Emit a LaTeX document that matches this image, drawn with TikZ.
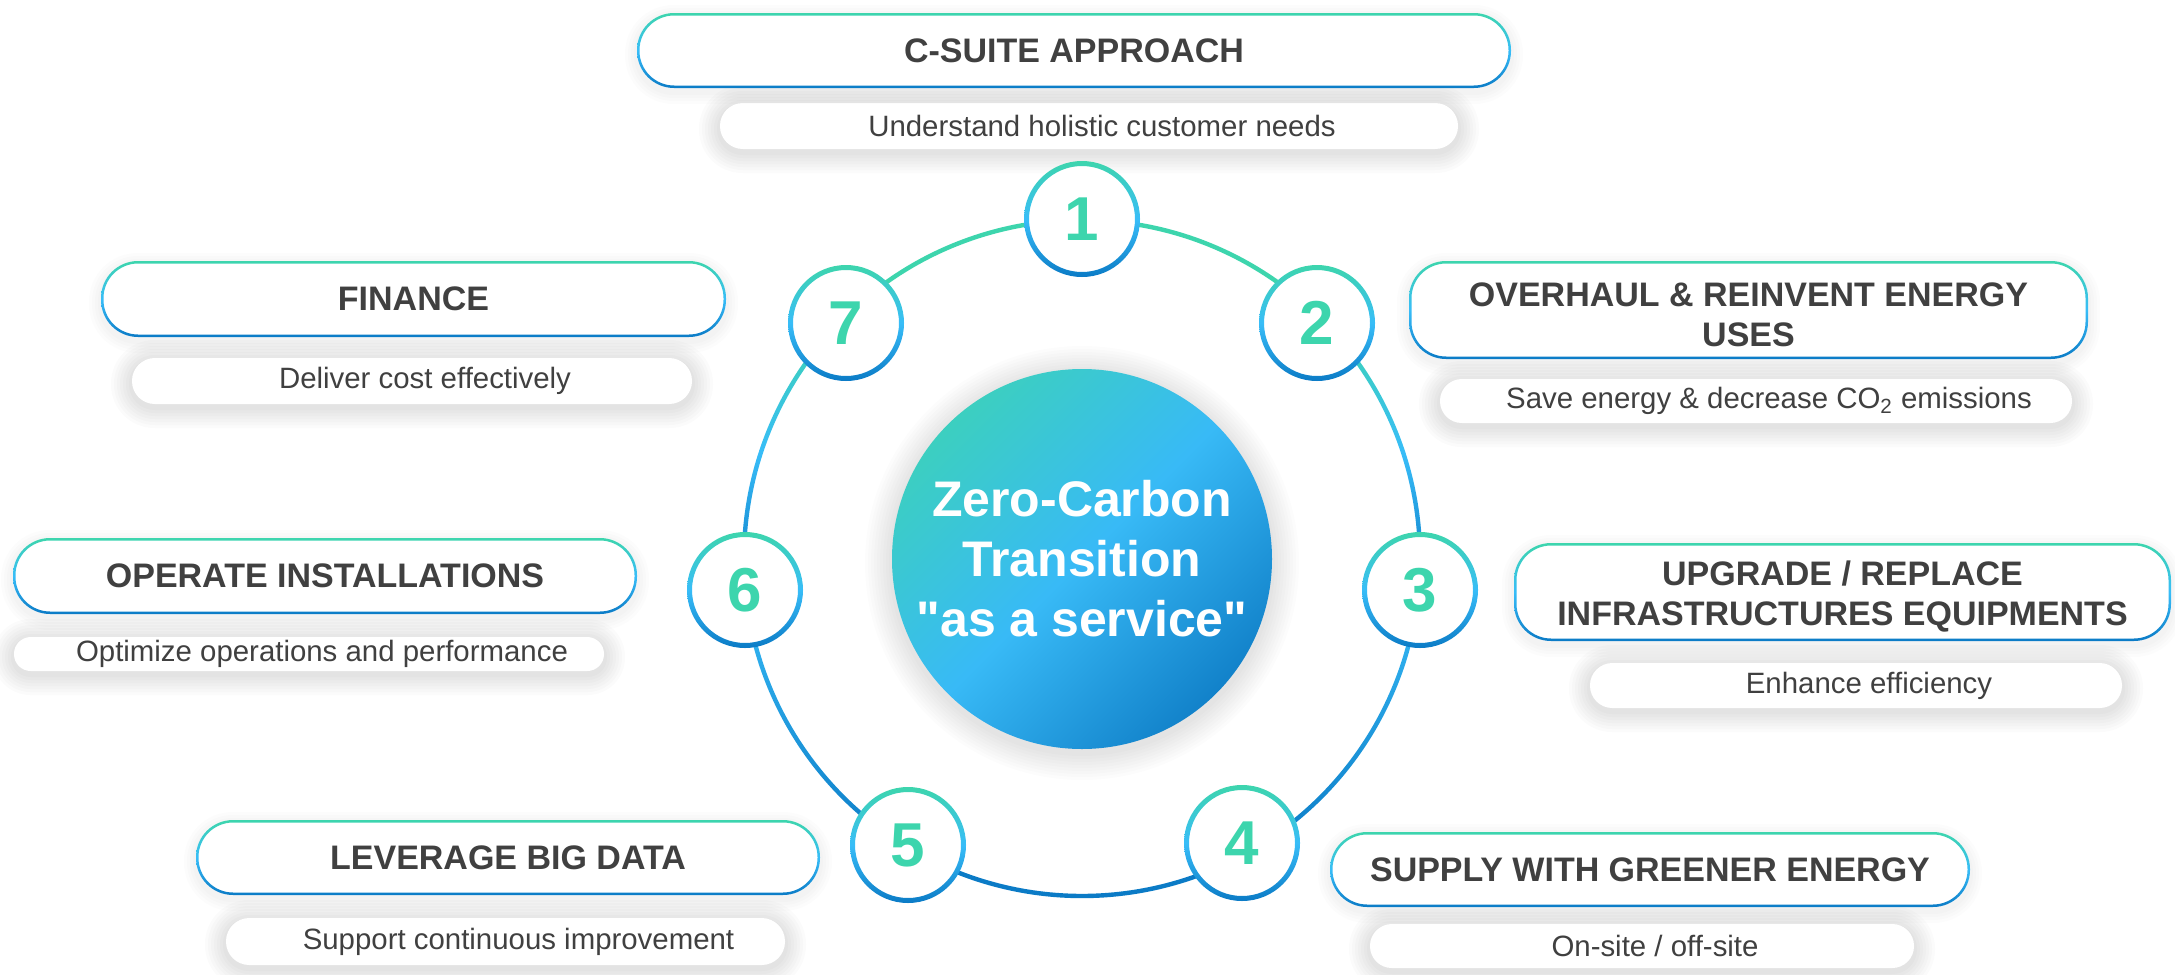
\documentclass[tikz,border=0pt]{standalone}
\usepackage{fontspec}
\setmainfont{Liberation Sans}
\newfontfamily\cfont[Ligatures=TeXOff]{Liberation Sans}
\usetikzlibrary{calc}
\definecolor{cteal}{HTML}{3DD5AD}
\definecolor{clight}{HTML}{38BDF8}
\definecolor{cdark}{HTML}{0B7BC6}
\definecolor{ctext}{HTML}{404040}
\definecolor{cca}{HTML}{3CCFC0}
\definecolor{ccb}{HTML}{38BAF6}
\definecolor{ccc}{HTML}{1282CA}

\tikzset{
  titlenode/.style={rectangle, fill=white, inner sep=0pt, rounded corners=18.5pt, text=ctext,
    font=\fontsize{17pt}{20pt}\selectfont\bfseries, align=center},
  subnode/.style={rectangle, fill=white, inner sep=0pt, text=ctext,
    font=\fontsize{14.7pt}{17pt}\selectfont, align=center},
  numnode/.style={circle, fill=white, inner sep=0pt, minimum size=55pt, text=cteal,
    font=\fontsize{31pt}{31pt}\selectfont\bfseries},
  centernode/.style={circle, inner sep=0pt, minimum size=190pt, top color=cca, bottom color=ccc,
    middle color=ccb, shading angle=45, text=white, align=center,
    font=\cfont\fontsize{25pt}{30pt}\selectfont\bfseries},
  bordershade/.style={even odd rule, top color=cteal, bottom color=cdark, middle color=clight},
}

% soft glow: x1 y1 x2 y2 radius layers opacity offset
\newcommand\softglow[8]{%
  \foreach \k in {1,...,#6}{%
    \pgfmathsetmacro\rr{max(0.5,(#5+3*\k-0.6)*0.5)}%
    \fill[black,opacity=#7,rounded corners=\rr pt] (#1-3*\k,#2-3*\k+#8) rectangle (#3+3*\k,#4+3*\k+#8);
  }}

% title box: name x1 y1 x2 y2 text
\newcommand\titlebox[6]{%
  \softglow{#2}{#3}{#4}{#5}{37}{4}{0.010}{4}%
  \pgfmathsetmacro\cx{(#2+#4)/2}\pgfmathsetmacro\cy{(#3+#5)/2}%
  \pgfmathsetmacro\ww{(#4-#2)*0.5}\pgfmathsetmacro\hh{(#5-#3)*0.5}%
  \node[titlenode, minimum width=\ww pt, minimum height=\hh pt] (#1) at (\cx,\cy) {#6};
  \path[bordershade, rounded corners=18.5pt] (#2,#3) rectangle (#4,#5)
     [rounded corners=17.3pt] (#2+2.5,#3+2.5) rectangle (#4-2.5,#5-2.5);
}

% subtitle pill: name x1 y1 x2 y2 text
\newcommand\subbox[6]{%
  \pgfmathsetmacro\rad{(#5-#3)/2}%
  \softglow{#2}{#3}{#4}{#5}{\rad}{7}{0.014}{3}%
  \pgfmathsetmacro\cx{(#2+#4)/2}\pgfmathsetmacro\cy{(#3+#5)/2}%
  \pgfmathsetmacro\ww{(#4-#2)*0.5}\pgfmathsetmacro\hh{(#5-#3)*0.5}%
  \pgfmathsetmacro\rp{(#5-#3)*0.25-0.1}%
  \node[subnode, rounded corners=\rp pt, minimum width=\ww pt, minimum height=\hh pt] (#1) at (\cx,\cy) {\hspace*{13pt}#6};
}

% ring segment: start end style
\newcommand\ringseg[3]{%
  \path[#3] ([shift={(#1:340.2)}]rc) arc[start angle=#1, end angle=#2, radius=340.2]
    -- ([shift={(#2:335.8)}]rc) arc[start angle=#2, end angle=#1, radius=335.8] -- cycle;
}

% numbered circle: name x y number
\newcommand\numcircle[4]{%
  \node[numnode] (#1) at (#2,#3) {#4};
  \path[bordershade] (#2,#3) circle (58) (#2,#3) circle (53);
}

\begin{document}
\begin{tikzpicture}[x=0.5pt, y=-0.5pt]
  \fill[white] (0,0) rectangle (2175,975);
  \useasboundingbox (0,0) rectangle (2175,975);

  % subtitle pills (with glow)
  \subbox{s1}{720}{103}{1458}{149}{Understand holistic customer needs}
  \subbox{s2}{1440}{379}{2072}{423}{Save energy \& decrease CO\textsubscript{2} emissions}
  \subbox{s3}{1590}{663}{2122}{708}{Enhance efficiency}
  \subbox{s4}{1370}{924}{1914}{968}{On-site / off-site}
  \subbox{s5}{226}{918}{785}{965}{Support continuous improvement}
  \subbox{s6}{14}{637}{604}{671}{Optimize operations and performance}
  \subbox{s7}{132}{358}{692}{404}{Deliver cost effectively}

  % title boxes
  \titlebox{t1}{637}{13}{1511}{88}{C-SUITE APPROACH}
  \titlebox{t2}{1409}{261}{2088}{359}{\rule{0pt}{16.5pt}OVERHAUL \& REINVENT ENERGY\\USES}
  \titlebox{t3}{1514}{543}{2171}{641}{\rule{0pt}{16.5pt}UPGRADE / REPLACE\\INFRASTRUCTURES EQUIPMENTS}
  \titlebox{t4}{1330}{832}{1970}{907}{SUPPLY WITH GREENER ENERGY}
  \titlebox{t5}{196}{820}{820}{895}{LEVERAGE BIG DATA}
  \titlebox{t6}{13}{538}{637}{614}{OPERATE INSTALLATIONS}
  \titlebox{t7}{101}{261}{726}{337}{FINANCE}

  % central glow and node
  \foreach \k in {1,...,9}{
    \fill[black,opacity=0.012] (1082,563) circle (190+3*\k);
  }
  \node[centernode] (center) at (1082,559) {Zero-Carbon\\Transition \\"as a service"};

  % ring
  \coordinate (rc) at (1082,558);
  \ringseg{225}{315}{fill=cteal}
  \ringseg{315}{365}{top color=cteal, bottom color=cdark, middle color=clight}
  \ringseg{5}{60}{top color=clight, bottom color=cdark}
  \ringseg{60}{120}{fill=cdark}
  \ringseg{120}{175}{top color=clight, bottom color=cdark}
  \ringseg{175}{225}{top color=cteal, bottom color=cdark, middle color=clight}

  % numbered circles
  \numcircle{n1}{1082}{219}{1}
  \numcircle{n2}{1317}{323}{2}
  \numcircle{n3}{1420}{590}{3}
  \numcircle{n4}{1242}{843}{4}
  \numcircle{n5}{908}{845}{5}
  \numcircle{n6}{745}{590}{6}
  \numcircle{n7}{846}{323}{7}
\end{tikzpicture}
\end{document}
